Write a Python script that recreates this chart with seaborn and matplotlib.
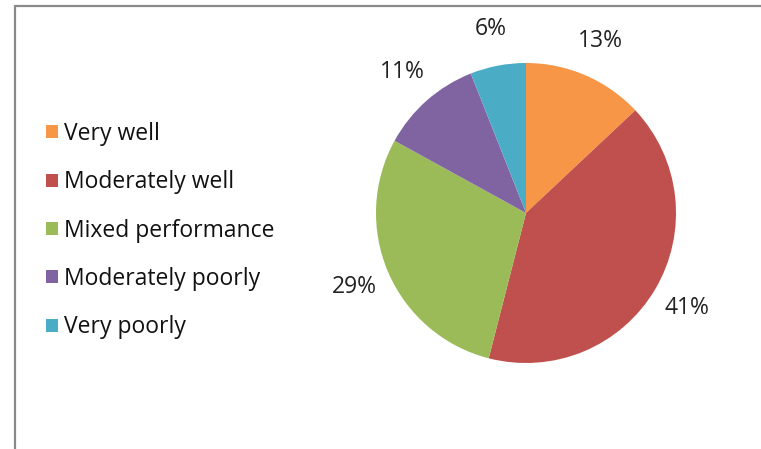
import matplotlib
matplotlib.use("Agg")
import matplotlib.pyplot as plt
from matplotlib.lines import Line2D
import seaborn as sns

categories = ["Very well", "Moderately well", "Mixed performance", "Moderately poorly", "Very poorly"]
values = [13, 41, 29, 11, 6]
colors = ["#F79646", "#C0504D", "#9BBB59", "#8064A2", "#4BACC6"]

sns.set_theme(style="white")
plt.rcParams['font.family'] = ['Open Sans', 'DejaVu Sans']

W, H = 761, 449
fig = plt.figure(figsize=(W / 100, H / 100), dpi=100)
fig.patch.set_facecolor("white")

FS = 16.5
cx, cy, r = 526, 213, 150
ax = fig.add_axes([(cx - r) / W, (H - cy - r) / H, 2 * r / W, 2 * r / H])
wedges, texts, autotexts = ax.pie(
    values, colors=colors, startangle=90, counterclock=False,
    autopct=lambda p: f"{p:.0f}%", pctdistance=1.25,
    wedgeprops=dict(linewidth=0),
    textprops=dict(fontsize=FS, color="#222222"),
)
ax.set_aspect("equal")
ax.set_xlim(-1, 1)
ax.set_ylim(-1, 1)
ax.axis("off")

leg = fig.legend(wedges, categories, loc="upper left",
                 bbox_to_anchor=(30 / W, 1 - 106 / H),
                 frameon=False, fontsize=FS, handlelength=0.5, handleheight=0.5,
                 handletextpad=0.3, labelspacing=1.06, labelcolor="#111111",
                 borderpad=0.2)

# frame lines at left and top
fig.add_artist(Line2D([15.5 / W, 15.5 / W], [0, 1 - 5.5 / H], transform=fig.transFigure,
                      color="#8a8a8a", linewidth=1.6))
fig.add_artist(Line2D([15.5 / W, 1], [1 - 5.5 / H, 1 - 5.5 / H], transform=fig.transFigure,
                      color="#8a8a8a", linewidth=1.6))

fig.savefig("out.png", dpi=100, facecolor="white")
